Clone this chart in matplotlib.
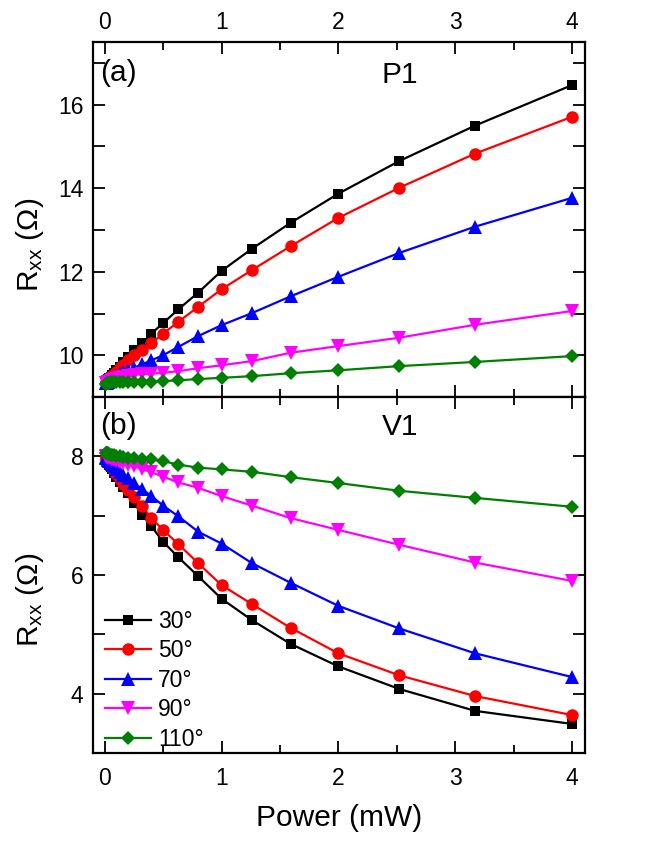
# -*- coding: utf-8 -*-

import numpy as np
import matplotlib
matplotlib.use("Agg")
import matplotlib.pyplot as plt
from matplotlib.ticker import MultipleLocator

plt.rcParams['font.family'] = ['Liberation Sans', 'DejaVu Sans']
plt.rcParams['mathtext.fontset'] = 'custom'
plt.rcParams['mathtext.rm'] = 'Liberation Sans'
plt.rcParams['mathtext.it'] = 'Liberation Sans'

# laser power (mW), same for every curve
power = [0.01, 0.013, 0.016, 0.02, 0.025, 0.032, 0.04, 0.05, 0.063, 0.08,
         0.10, 0.13, 0.16, 0.20, 0.25, 0.32, 0.40, 0.50, 0.63, 0.80,
         1.0, 1.26, 1.59, 2.0, 2.52, 3.17, 4.0]

angles = ['30°', '50°', '70°', '90°', '110°']

# (a) P1
p1_30 = [9.35, 9.36, 9.37, 9.38, 9.40, 9.42, 9.45, 9.48, 9.52, 9.58,
         9.65, 9.73, 9.83, 9.96, 10.12, 10.29, 10.52, 10.77, 11.10, 11.50,
         12.02, 12.55, 13.17, 13.87, 14.65, 15.50, 16.47]
p1_50 = [9.34, 9.35, 9.36, 9.37, 9.39, 9.41, 9.43, 9.46, 9.50, 9.55,
         9.61, 9.69, 9.77, 9.88, 10.00, 10.13, 10.29, 10.52, 10.80, 11.16,
         11.58, 12.04, 12.61, 13.29, 14.01, 14.83, 15.71]
p1_70 = [9.33, 9.34, 9.34, 9.35, 9.36, 9.37, 9.39, 9.41, 9.43, 9.46,
         9.50, 9.55, 9.59, 9.64, 9.70, 9.78, 9.88, 10.00, 10.20, 10.46,
         10.72, 11.01, 11.41, 11.88, 12.45, 13.08, 13.77]
p1_90 = [9.33, 9.33, 9.34, 9.34, 9.35, 9.36, 9.37, 9.38, 9.40, 9.42,
         9.44, 9.46, 9.49, 9.51, 9.53, 9.55, 9.56, 9.58, 9.62, 9.69,
         9.76, 9.86, 10.06, 10.22, 10.42, 10.73, 11.06]
p1_110 = [9.32, 9.32, 9.33, 9.33, 9.33, 9.34, 9.34, 9.35, 9.35, 9.35,
          9.35, 9.36, 9.36, 9.36, 9.36, 9.37, 9.37, 9.38, 9.40, 9.43,
          9.46, 9.50, 9.57, 9.64, 9.74, 9.84, 9.98]

# (b) V1
v1_30 = [7.97, 7.96, 7.95, 7.93, 7.91, 7.89, 7.86, 7.82, 7.78, 7.72,
         7.65, 7.57, 7.48, 7.38, 7.22, 7.02, 6.82, 6.56, 6.30, 5.98,
         5.60, 5.24, 4.84, 4.46, 4.08, 3.71, 3.49]
v1_50 = [7.98, 7.97, 7.96, 7.94, 7.92, 7.90, 7.88, 7.85, 7.81, 7.76,
         7.70, 7.62, 7.54, 7.44, 7.32, 7.16, 6.96, 6.76, 6.52, 6.20,
         5.83, 5.51, 5.11, 4.68, 4.31, 3.96, 3.64]
v1_70 = [7.99, 7.98, 7.98, 7.97, 7.96, 7.94, 7.92, 7.90, 7.87, 7.83,
         7.79, 7.74, 7.69, 7.63, 7.55, 7.45, 7.33, 7.17, 6.99, 6.73,
         6.53, 6.20, 5.87, 5.48, 5.10, 4.68, 4.28]
v1_90 = [8.00, 7.99, 7.99, 7.99, 7.98, 7.98, 7.97, 7.96, 7.95, 7.94,
         7.92, 7.90, 7.88, 7.86, 7.83, 7.79, 7.73, 7.66, 7.56, 7.47,
         7.33, 7.17, 6.96, 6.76, 6.51, 6.21, 5.90]
v1_110 = [8.06, 8.06, 8.05, 8.05, 8.05, 8.04, 8.04, 8.03, 8.03, 8.02,
          8.01, 8.00, 7.99, 7.98, 7.97, 7.96, 7.95, 7.92, 7.86, 7.81,
          7.78, 7.74, 7.65, 7.55, 7.42, 7.30, 7.15]

colors = ['black', 'red', 'blue', 'magenta', 'green']
markers = ['s', 'o', '^', 'v', 'D']
msizes = [7.8, 9, 9.5, 9.5, 7]

TICK_FS = 16.5
LABEL_FS = 21.5

fig = plt.figure(figsize=(6.54, 8.46), dpi=100)
ax1 = fig.add_axes([0.1422, 0.5307, 0.7523, 0.4196])
ax2 = fig.add_axes([0.1422, 0.1099, 0.7523, 0.4208])

for ax, series in ((ax1, [p1_30, p1_50, p1_70, p1_90, p1_110]),
                   (ax2, [v1_30, v1_50, v1_70, v1_90, v1_110])):
    for y, c, m, ms, lab in zip(series, colors, markers, msizes, angles):
        ax.plot(power, y, color=c, marker=m, markersize=ms, lw=1.6,
                markeredgewidth=0, label=lab)

    ax.set_xlim(-0.1, 4.11)
    ax.xaxis.set_major_locator(MultipleLocator(1))
    ax.xaxis.set_minor_locator(MultipleLocator(0.5))
    ax.yaxis.set_major_locator(MultipleLocator(2))
    ax.yaxis.set_minor_locator(MultipleLocator(1))
    ax.tick_params(which='both', direction='in', top=True, right=True,
                   width=1.3, labelsize=TICK_FS)
    ax.tick_params(which='major', length=8.5)
    ax.tick_params(which='minor', length=6)
    ax.tick_params(axis='y', which='minor', length=8.5)
    ax.tick_params(axis='y', which='major', pad=7)
    for sp in ax.spines.values():
        sp.set_linewidth(1.6)
    ax.set_ylabel(r'R$_{\mathregular{xx}}$ ($\Omega$)', fontsize=LABEL_FS)
    ax.yaxis.set_label_coords(-0.095, 0.43)

ax1.set_ylim(9, 17.5)
ax2.set_ylim(3, 9)

# top panel: labels on top only
ax1.tick_params(axis='x', labelbottom=False, labeltop=True, pad=6)
ax2.tick_params(axis='x', pad=10)
ax2.set_xlabel('Power (mW)', fontsize=LABEL_FS, labelpad=10)

ax1.text(0.014, 0.913, '(a)', transform=ax1.transAxes, fontsize=LABEL_FS,
         va='center', ha='left')
ax1.text(0.624, 0.907, 'P1', transform=ax1.transAxes, fontsize=LABEL_FS,
         va='center', ha='center')
ax2.text(0.014, 0.918, '(b)', transform=ax2.transAxes, fontsize=LABEL_FS,
         va='center', ha='left')
ax2.text(0.624, 0.915, 'V1', transform=ax2.transAxes, fontsize=LABEL_FS,
         va='center', ha='center')

ax2.legend(loc='lower left', bbox_to_anchor=(0.02, 0.0), frameon=False,
           fontsize=TICK_FS, handlelength=2.0, handletextpad=0.3,
           labelspacing=0.28, borderaxespad=0.0, borderpad=0.1)

fig.savefig('out.png', dpi=100)
